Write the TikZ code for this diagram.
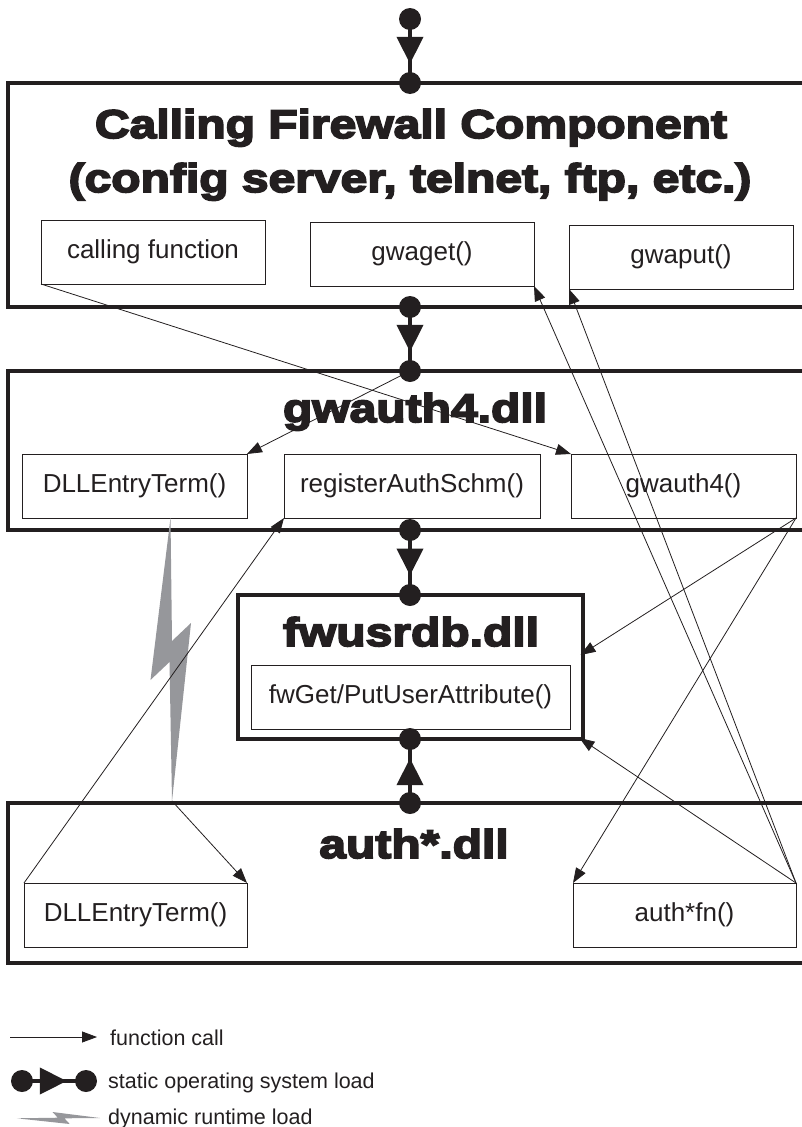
\documentclass[tikz,border=0pt]{standalone}
\usepackage{fontspec}
\setmainfont{Liberation Sans}
\newfontfamily\heavyfont[BoldFeatures={FakeBold=4.5,FakeStretch=1.2}]{Liberation Sans}
\usetikzlibrary{arrows.meta,decorations.markings,calc}
\definecolor{ink}{RGB}{35,31,32}
\definecolor{boltgray}{RGB}{150,151,155}

\begin{document}
\begin{tikzpicture}[x=1pt,y=-1pt,
    layer/.style={draw=ink,line width=4pt,inner sep=0pt,outer sep=0pt},
    fnbox/.style={draw=ink,line width=1pt,inner sep=0pt,outer sep=0pt,minimum height=64pt,text=ink,font=\fontsize{26}{30}\selectfont},
    title/.style={inner sep=0pt,text=ink,font=\heavyfont\bfseries\fontsize{40}{44}\selectfont},
    dot/.style={circle,fill=ink,inner sep=0pt,minimum size=22pt},
    load/.style={draw=ink,line width=4pt,postaction={decorate},
        decoration={markings,mark=at position 0.7 with {\arrow[ink]{Triangle[length=27pt,width=26pt]}}}},
    call/.style={draw=ink,line width=0.8pt,-{Triangle[length=15pt,width=11pt]}},
    legtext/.style={inner sep=0pt,text=ink,font=\fontsize{21.5}{25}\selectfont}]
        \useasboundingbox (0,0) rectangle (802,1127);
        \node[layer,minimum width=804pt,minimum height=224pt] (comp) at (410,195) {};
        \node[layer,minimum width=804pt,minimum height=159pt] (gwauth) at (410,450.5) {};
        \node[layer,minimum width=345pt,minimum height=144pt] (fwusr) at (410,667) {};
        \node[layer,minimum width=804pt,minimum height=160pt] (authdll) at (410,883) {};
        \node[title,anchor=base] (comptitle) at (411,138) {Calling Firewall Component};
        \node[title,anchor=base] (compsub) at (410,192) {(config server, telnet, ftp, etc.)};
        \node[title,anchor=base] (gwauthtitle) at (415,422) {gwauth4.dll};
        \node[title,anchor=base] (fwusrtitle) at (411,646) {fwusrdb.dll};
        \node[title,anchor=base] (authtitle) at (414,858) {auth*.dll};
        \node[fnbox,minimum width=224pt] (callfn) at (153,252) {calling function};
        \node[fnbox,minimum width=224pt] (gwaget) at (422,254) {gwaget()};
        \node[fnbox,minimum width=224pt] (gwaput) at (681,257) {gwaput()};
        \node[fnbox,minimum width=225pt] (dllA) at (134.5,486) {DLLEntryTerm()};
        \node[fnbox,minimum width=256pt] (regauth) at (412,486) {registerAuthSchm()};
        \node[fnbox,minimum width=225pt] (gwauthfn) at (683.5,486) {gwauth4()};
        \node[fnbox,minimum width=319pt] (fwattr) at (410.5,697) {fwGet/PutUserAttribute()};
        \node[fnbox,minimum width=223pt] (dllB) at (135.5,915) {DLLEntryTerm()};
        \node[fnbox,minimum width=223pt] (authfn) at (684.5,915) {auth*fn()};
        \node[dot] (ld0) at (410,19) {};
        \node[dot] (ld1) at (comp.north) {};
        \node[dot] (ld2) at (comp.south) {};
        \node[dot] (ld3) at (gwauth.north) {};
        \node[dot] (ld4) at (gwauth.south) {};
        \node[dot] (ld5) at (fwusr.north) {};
        \node[dot] (ld6) at (fwusr.south) {};
        \node[dot] (ld7) at (authdll.north) {};
        \draw[load] (ld0.center) -- (ld1.center);
        \draw[load] (ld2.center) -- (ld3.center);
        \draw[load] (ld4.center) -- (ld5.center);
        \draw[load] (ld7.center) -- (ld6.center);
        \coordinate (bolttop) at ($(dllA.south west)!0.66!(dllA.south east)$);
        \coordinate (boltend) at (172,801);
        \fill[boltgray] (bolttop) -- ++(-20,162) -- ++(19,-18) -- (boltend) -- ++(19,-178) -- ++(-19,18) -- cycle;
        \coordinate (fwin1) at ($(fwusr.north east)+(-2,60)$);
        \coordinate (fwin2) at ($(fwusr.south east)+(-3,-1)$);
        \draw[call] (ld3.center) -- (dllA.north east);
        \draw[call] (callfn.south west) -- (gwauthfn.north west);
        \draw[call] (dllB.north west) -- (regauth.south west);
        \draw[call] (boltend) -- (dllB.north east);
        \draw[call] (gwauthfn.south east) -- (fwin1);
        \draw[call] (gwauthfn.south east) -- (authfn.north west);
        \draw[call] (authfn.north east) -- (gwaget.south east);
        \draw[call] (authfn.north east) -- (gwaput.south west);
        \draw[call] (authfn.north east) -- (fwin2);
        \coordinate (lgA) at (10,1037);
        \coordinate (lgB) at (97,1037);
        \draw[call] (lgA) -- (lgB);
        \node[legtext,anchor=base west] (lgcall) at (110,1045) {function call};
        \node[dot] (lgC) at (22,1081) {};
        \node[dot] (lgD) at (86,1081) {};
        \draw[load] (lgC.center) -- (lgD.center);
        \node[legtext,anchor=base west] (lgload) at (108,1088) {static operating system load};
        \fill[boltgray] (100,1118) -- (52.5,1112) -- (57.8,1117.7) -- (16.8,1118.3) -- (69.7,1124) -- (64.4,1118.3) -- cycle;
        \node[legtext,anchor=base west] (lgdyn) at (108,1124) {dynamic runtime load};
\end{tikzpicture}
\end{document}
